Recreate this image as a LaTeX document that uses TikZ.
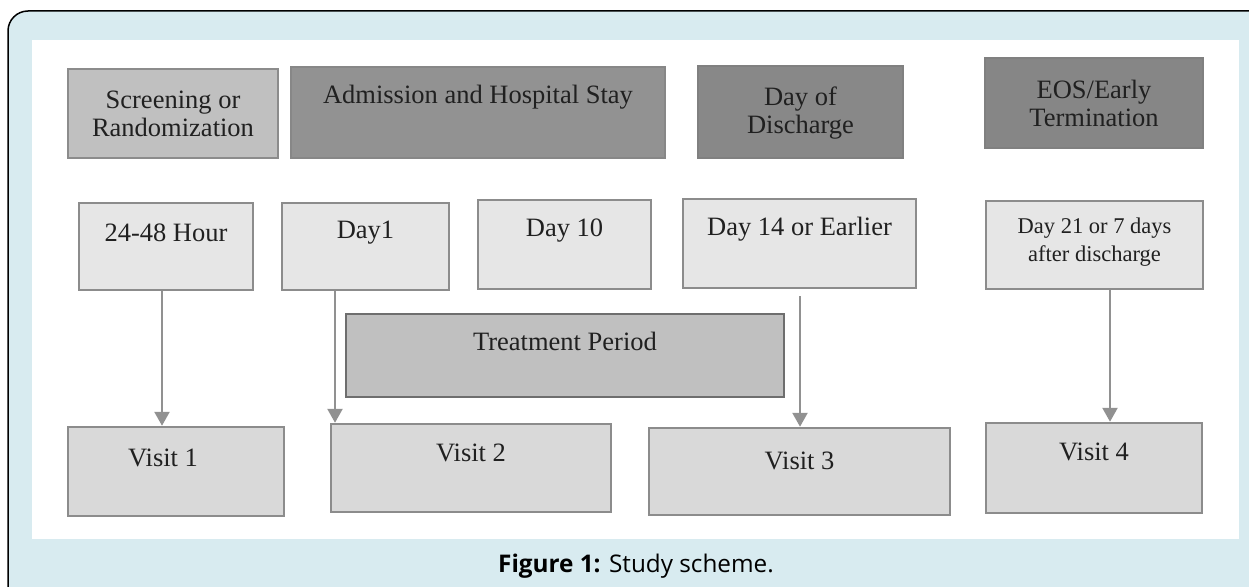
\documentclass[tikz,border=0pt]{standalone}
\usepackage{fontspec}
\setmainfont{Liberation Serif}
\newfontfamily\capfont{Open Sans}
\usetikzlibrary{arrows.meta}
\definecolor{bgblue}{RGB}{216,235,240}
\definecolor{edgegray}{RGB}{140,140,140}
\definecolor{txtgray}{RGB}{32,32,32}
\definecolor{arrgray}{RGB}{145,145,145}
\tikzset{
  boxbase/.style={rectangle, inner sep=0pt, line width=2.5pt, draw=edgegray},
  phasebox/.style={boxbase, line width=1.2pt},
  timebox/.style={boxbase, fill={rgb,255:red,230;green,230;blue,230}},
  visitbox/.style={boxbase, fill={rgb,255:red,217;green,217;blue,217}},
  txt/.style={inner sep=0pt, align=center, text=txtgray, font=\fontsize{26.5}{28}\selectfont},
  smalltxt/.style={inner sep=0pt, align=center, text=txtgray, font=\fontsize{22.5}{28}\selectfont},
  arr/.style={draw=arrgray, line width=2.5pt, -{Triangle[length=14pt,width=15pt]}}
}
\begin{document}
\begin{tikzpicture}[x=1pt,y=-1pt]
\useasboundingbox (0,0) rectangle (1249,586);
\clip (0,0) rectangle (1249,586);
\fill[white] (0,0) rectangle (1249,586);
\draw[fill=bgblue, line width=1.5pt, rounded corners=20pt] (8,11) rectangle (1300,650);
\fill[white] (32,40) rectangle (1239,539);

% top row
\node[phasebox, fill={rgb,255:red,192;green,192;blue,192}, line width=2.5pt, minimum width=210pt, minimum height=89pt] (scr) at (173,113.5) {};
\node[txt] (scrT) at (scr.center) {Screening or\\Randomization};
\node[phasebox, fill={rgb,255:red,146;green,146;blue,146}, draw={rgb,255:red,135;green,135;blue,135}, minimum width=374pt, minimum height=91pt] (adm) at (478,112.5) {};
\node[txt] (admT) at ([yshift=15pt]adm.center) {Admission and Hospital Stay};
\node[phasebox, fill={rgb,255:red,136;green,136;blue,136}, draw={rgb,255:red,128;green,128;blue,128}, minimum width=205pt, minimum height=92pt] (dis) at (800.5,112) {};
\node[txt] (disT) at ([yshift=-1pt]dis.center) {Day of\\Discharge};
\node[phasebox, fill={rgb,255:red,134;green,134;blue,134}, draw={rgb,255:red,128;green,128;blue,128}, minimum width=218pt, minimum height=90pt] (eos) at (1094,103) {};
\node[txt] (eosT) at ([yshift=-0.5pt]eos.center) {EOS/Early\\Termination};

% middle row
\node[timebox, minimum width=174pt, minimum height=87pt] (h24) at (166,246.5) {};
\node[txt] (h24T) at ([yshift=14pt]h24.center) {24-48 Hour};
\node[timebox, minimum width=167pt, minimum height=87pt] (d1) at (365.5,246.5) {};
\node[txt] (d1T) at ([yshift=14pt]d1.center) {Day1};
\node[timebox, minimum width=173pt, minimum height=89pt] (d10) at (564.5,244.5) {};
\node[txt] (d10T) at ([yshift=14pt]d10.center) {Day 10};
\node[timebox, minimum width=233pt, minimum height=89pt] (d14) at (799.5,243.5) {};
\node[txt] (d14T) at ([yshift=14pt]d14.center) {Day 14 or Earlier};
\node[timebox, minimum width=217pt, minimum height=88pt] (d21) at (1094.5,245) {};
\node[smalltxt] (d21T) at ([yshift=3pt]d21.center) {Day 21 or 7 days\\after discharge};

% treatment
\node[boxbase, fill={rgb,255:red,192;green,192;blue,192}, draw={rgb,255:red,110;green,110;blue,110}, line width=2pt, minimum width=438pt, minimum height=83pt] (trt) at (565,355.5) {};
\node[txt] (trtT) at ([yshift=14pt]trt.center) {Treatment Period};

% bottom row
\node[visitbox, minimum width=216pt, minimum height=89pt] (v1) at (176,471.5) {};
\node[txt] (v1T) at ([yshift=14pt,xshift=-13pt]v1.center) {Visit 1};
\node[visitbox, minimum width=280pt, minimum height=88pt] (v2) at (471,468) {};
\node[txt] (v2T) at ([yshift=15pt]v2.center) {Visit 2};
\node[visitbox, minimum width=301pt, minimum height=87pt] (v3) at (799.5,471.5) {};
\node[txt] (v3T) at ([yshift=11pt]v3.center) {Visit 3};
\node[visitbox, minimum width=216pt, minimum height=90pt] (v4) at (1094,468) {};
\node[txt] (v4T) at ([yshift=16pt]v4.center) {Visit 4};

% arrows
\coordinate (x1) at (162,0);
\coordinate (x2) at (335,0);
\coordinate (x3) at (800,0);
\coordinate (x4) at (1110,0);
\draw[arr] (h24.south -| x1) -- (v1.north -| x1);
\draw[arr] (d1.south -| x2) -- (v2.north -| x2);
\draw[arr] ([yshift=-7pt]d14.south -| x3) -- (v3.north -| x3);
\draw[arr] (d21.south -| x4) -- (v4.north -| x4);

% caption
\node[inner sep=0pt, font=\capfont\fontsize{24.3}{27}\selectfont] (cap) at (636,566) {\textbf{Figure 1:} Study scheme.};
\end{tikzpicture}
\end{document}
